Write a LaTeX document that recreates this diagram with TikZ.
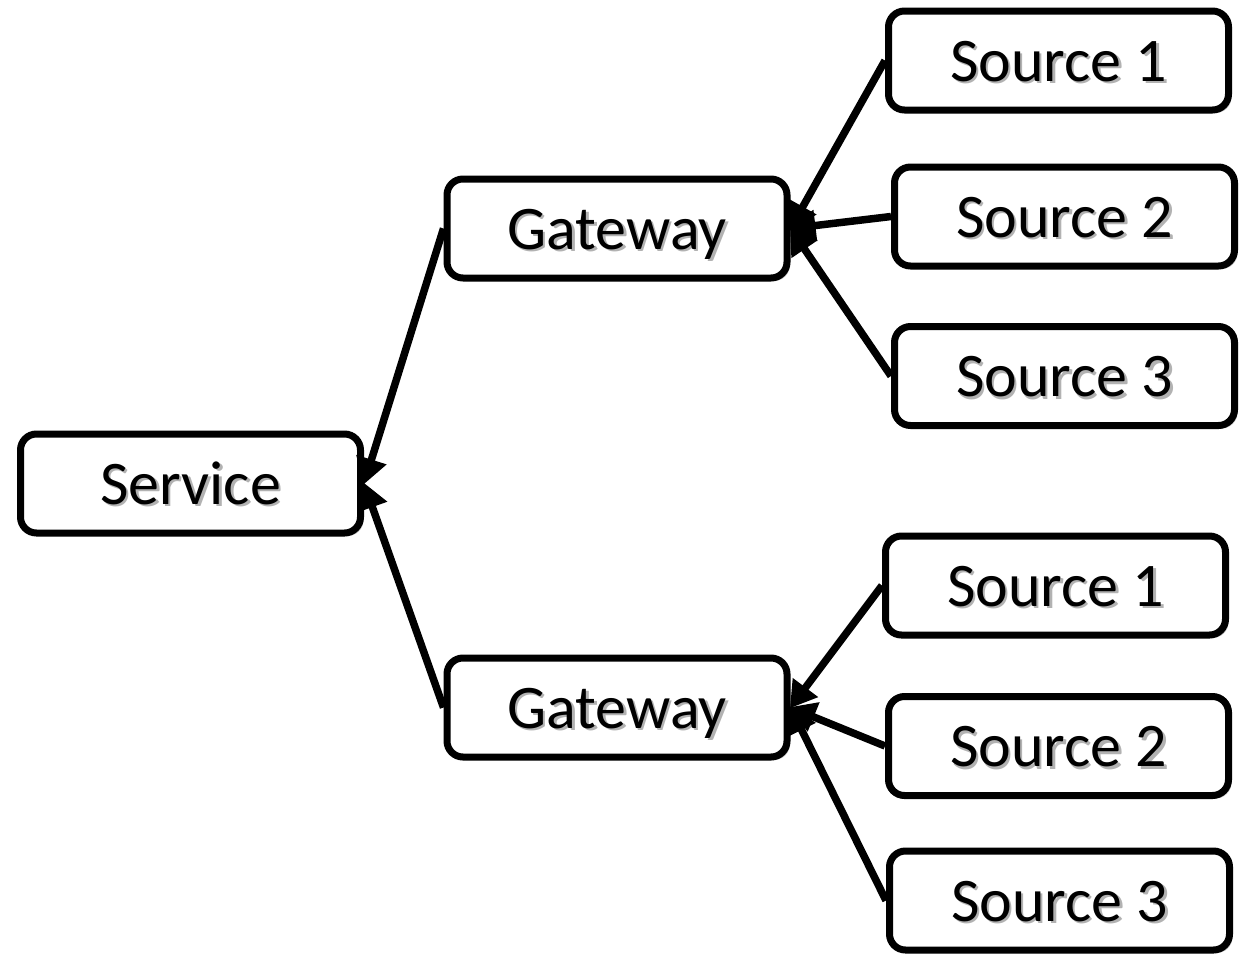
\documentclass[tikz,border=0pt]{standalone}
\usepackage{fontspec}
\setmainfont{Carlito}
\usetikzlibrary{arrows.meta,shadows}
% label text with a soft grey drop shadow
\newcommand\shadowtext[1]{\makebox[0pt][l]{\hspace{2.5pt}\raisebox{-2.5pt}{\textcolor{black!30}{#1}}}#1}
\tikzset{
  box/.style={draw=black, line width=7pt, rounded corners=16pt, fill=white,
    minimum width=340pt, minimum height=99pt, inner sep=0pt,
    text height=41pt, text depth=0pt,
    font=\fontsize{62}{72}\selectfont,
    drop shadow={shadow xshift=3pt, shadow yshift=-3pt, opacity=0.25, fill=black}},
  feed/.style={line width=7.5pt, -{Triangle[length=26pt,width=30pt]}, shorten >=-1pt}
}
\begin{document}
\begin{tikzpicture}[x=1pt,y=-1pt]
  \useasboundingbox (0,0) rectangle (1247,956);
  % service and gateways
  \node[box] (sv) at (190.5,483.5) {\shadowtext{Service}};
  \node[box] (gt) at (617,228.5) {\shadowtext{Gateway}};
  \node[box] (gb) at (617,707.5) {\shadowtext{Gateway}};
  % sources of the upper gateway
  \node[box] (ta) at (1058.5,60.5) {\shadowtext{Source 1}};
  \node[box] (tb) at (1064.5,216.5) {\shadowtext{Source 2}};
  \node[box] (tc) at (1064.5,376) {\shadowtext{Source 3}};
  % sources of the lower gateway
  \node[box] (ba) at (1055.5,585.5) {\shadowtext{Source 1}};
  \node[box] (bb) at (1058.5,746) {\shadowtext{Source 2}};
  \node[box] (bc) at (1059.5,900.5) {\shadowtext{Source 3}};
  % data flow
  \draw[feed] (ta.west) -- (gt.east);
  \draw[feed] (tb.west) -- (gt.east);
  \draw[feed] (tc.west) -- (gt.east);
  \draw[feed] (ba.west) -- (gb.east);
  \draw[feed] (bb.west) -- (gb.east);
  \draw[feed] (bc.west) -- (gb.east);
  \draw[feed] (gt.west) -- (sv.east);
  \draw[feed] (gb.west) -- (sv.east);
\end{tikzpicture}
\end{document}
